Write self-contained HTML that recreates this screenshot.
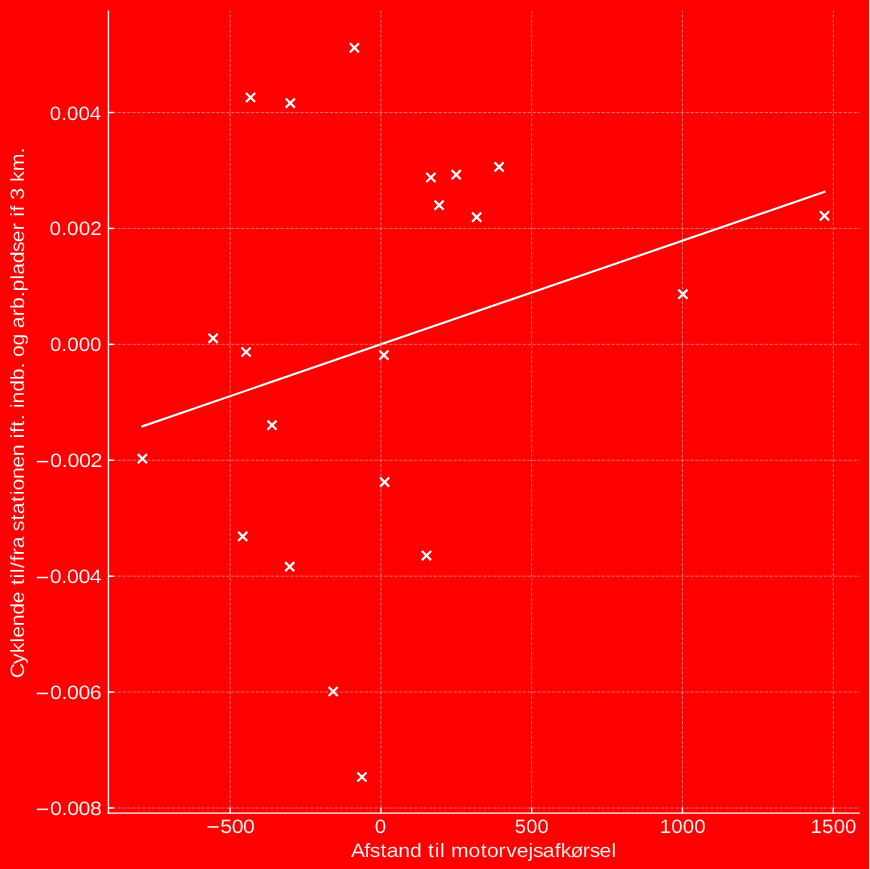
<!DOCTYPE html>
<html><head><meta charset="utf-8"><style>
html,body{margin:0;padding:0;background:#ff0000;overflow:hidden;width:870px;height:869px}
svg{display:block;will-change:transform}
text{font-family:"Liberation Sans",sans-serif;font-kerning:none;text-rendering:geometricPrecision}
</style></head><body>
<svg width="870" height="869" viewBox="0 0 870 869">
<rect x="0" y="0" width="870" height="869" fill="#ff0000"/>
<rect x="869" y="0" width="1" height="869" fill="#fff"/>
<line x1="142.4" y1="426.3" x2="824.5" y2="191.9" stroke="#fff" stroke-width="2.1" stroke-linecap="square"/>
<path d="M246.00 92.95L255.10 102.05M246.00 102.05L255.10 92.95M285.75 98.55L294.85 107.65M285.75 107.65L294.85 98.55M349.85 43.25L358.95 52.35M349.85 52.35L358.95 43.25M426.35 172.95L435.45 182.05M426.35 182.05L435.45 172.95M451.65 170.15L460.75 179.25M451.65 179.25L460.75 170.15M494.55 162.35L503.65 171.45M494.55 171.45L503.65 162.35M434.55 200.65L443.65 209.75M434.55 209.75L443.65 200.65M472.15 212.65L481.25 221.75M472.15 221.75L481.25 212.65M819.95 211.25L829.05 220.35M819.95 220.35L829.05 211.25M678.35 289.65L687.45 298.75M678.35 298.75L687.45 289.65M208.55 333.75L217.65 342.85M208.55 342.85L217.65 333.75M241.55 347.45L250.65 356.55M241.55 356.55L250.65 347.45M379.35 350.55L388.45 359.65M379.35 359.65L388.45 350.55M267.45 420.65L276.55 429.75M267.45 429.75L276.55 420.65M137.85 454.15L146.95 463.25M137.85 463.25L146.95 454.15M380.05 477.55L389.15 486.65M380.05 486.65L389.15 477.55M238.15 531.85L247.25 540.95M238.15 540.95L247.25 531.85M285.15 562.15L294.25 571.25M285.15 571.25L294.25 562.15M421.95 551.05L431.05 560.15M421.95 560.15L431.05 551.05M328.65 686.95L337.75 696.05M328.65 696.05L337.75 686.95M357.35 772.45L366.45 781.55M357.35 781.55L366.45 772.45" stroke="#fff" stroke-width="2.25" fill="none"/>
<g stroke="#c0c0c0" stroke-opacity="0.62" stroke-width="0.93" stroke-dasharray="3.45 1.49" fill="none"><line x1="230.11" y1="813.15" x2="230.11" y2="10.60"/><line x1="380.90" y1="813.15" x2="380.90" y2="10.60"/><line x1="531.68" y1="813.15" x2="531.68" y2="10.60"/><line x1="682.47" y1="813.15" x2="682.47" y2="10.60"/><line x1="833.25" y1="813.15" x2="833.25" y2="10.60"/><line x1="107.58" y1="112.52" x2="859.70" y2="112.52"/><line x1="107.58" y1="228.43" x2="859.70" y2="228.43"/><line x1="107.58" y1="344.35" x2="859.70" y2="344.35"/><line x1="107.58" y1="460.27" x2="859.70" y2="460.27"/><line x1="107.58" y1="576.18" x2="859.70" y2="576.18"/><line x1="107.58" y1="692.10" x2="859.70" y2="692.10"/><line x1="107.58" y1="808.01" x2="859.70" y2="808.01"/></g>
<g stroke="#fff" stroke-width="1.4" fill="none"><line x1="230.11" y1="813.15" x2="230.11" y2="807.65"/><line x1="380.90" y1="813.15" x2="380.90" y2="807.65"/><line x1="531.68" y1="813.15" x2="531.68" y2="807.65"/><line x1="682.47" y1="813.15" x2="682.47" y2="807.65"/><line x1="833.25" y1="813.15" x2="833.25" y2="807.65"/><line x1="108.45" y1="112.52" x2="113.95" y2="112.52"/><line x1="108.45" y1="228.43" x2="113.95" y2="228.43"/><line x1="108.45" y1="344.35" x2="113.95" y2="344.35"/><line x1="108.45" y1="460.27" x2="113.95" y2="460.27"/><line x1="108.45" y1="576.18" x2="113.95" y2="576.18"/><line x1="108.45" y1="692.10" x2="113.95" y2="692.10"/><line x1="108.45" y1="808.01" x2="113.95" y2="808.01"/></g>
<line x1="108.45" y1="10.6" x2="108.45" y2="813.9" stroke="#fff" stroke-width="1.35"/>
<line x1="107.75" y1="813.15" x2="859.7" y2="813.15" stroke="#fff" stroke-width="1.35"/>
<g fill="#fff" stroke="#ff0000" stroke-width="0.12" font-size="19.3"><text transform="translate(0 119.518) scale(1.0585 1)" x="47.04 57.82 63.33 74.12 84.90" y="0">0.004</text><text transform="translate(0 235.434) scale(1.0739 1)" x="46.16 56.95 62.46 73.24 84.03" y="0">0.002</text><text transform="translate(0 351.350) scale(1.0626 1)" x="46.95 57.73 63.25 74.03 84.81" y="0">0.000</text><rect x="36.80" y="460.86" width="11.43" height="1.50" stroke="none"/><text transform="translate(0 467.266) scale(1.1181 1)" x="44.75 55.16 60.29 70.58 80.87" y="0">0.002</text><rect x="36.80" y="576.77" width="11.29" height="1.50" stroke="none"/><text transform="translate(0 583.182) scale(1.1040 1)" x="45.16 55.58 60.71 71.00 81.29" y="0">0.004</text><rect x="36.80" y="692.69" width="11.31" height="1.50" stroke="none"/><text transform="translate(0 699.098) scale(1.1062 1)" x="45.10 55.51 60.65 70.94 81.23" y="0">0.006</text><rect x="36.80" y="808.60" width="11.33" height="1.50" stroke="none"/><text transform="translate(0 815.014) scale(1.1079 1)" x="45.05 55.46 60.60 70.88 81.17" y="0">0.008</text><rect x="207.50" y="826.19" width="11.19" height="1.50" stroke="none"/><text transform="translate(0 832.600) scale(1.1059 1)" x="199.17 209.51 219.63" y="0">500</text><text transform="translate(0 832.600) scale(1.0663 1)" x="351.57" y="0">0</text><text transform="translate(0 832.600) scale(1.0417 1)" x="494.11 505.13 515.91" y="0">500</text><text transform="translate(0 832.600) scale(1.0635 1)" x="620.30 631.20 641.99 652.77" y="0">1000</text><text transform="translate(0 832.600) scale(1.0572 1)" x="766.63 777.53 788.55 799.34" y="0">1500</text></g>
<g fill="#fff" stroke="#ff0000" stroke-width="0.15" font-size="19.3"><text transform="translate(0 856.800) scale(1.0953 1)" x="320.55 332.46 337.57 347.37 353.06 363.61 374.22 384.84 390.83 396.93 401.71 406.28 411.81 427.75 438.84 444.53 455.24 462.14 471.70 482.46 486.60 495.57 506.43 512.03 520.90 532.15 538.45 547.44 558.20" y="0">Afstand til motorvejsafkørsel</text><text transform="translate(23.800 0) rotate(-90) scale(1.1022 1)" x="-615.28 -602.46 -592.74 -582.97 -578.63 -568.18 -557.65 -547.29 -536.79 -530.85 -524.79 -520.05 -515.35 -509.55 -503.81 -497.34 -486.82 -481.95 -472.21 -466.57 -455.43 -449.37 -445.06 -434.70 -424.33 -413.88 -403.31 -397.78 -392.96 -387.19 -381.33 -376.01 -370.49 -365.99 -355.46 -344.93 -334.25 -328.93 -323.84 -313.47 -302.91 -297.81 -287.04 -280.39 -269.71 -264.43 -253.54 -249.23 -238.75 -228.63 -219.71 -208.97 -202.27 -196.75 -191.92 -186.43 -181.13 -170.46 -165.10 -155.42 -139.35" y="0">Cyklende til/fra stationen ift. indb. og arb.pladser if 3 km.</text></g>
</svg>
</body></html>
